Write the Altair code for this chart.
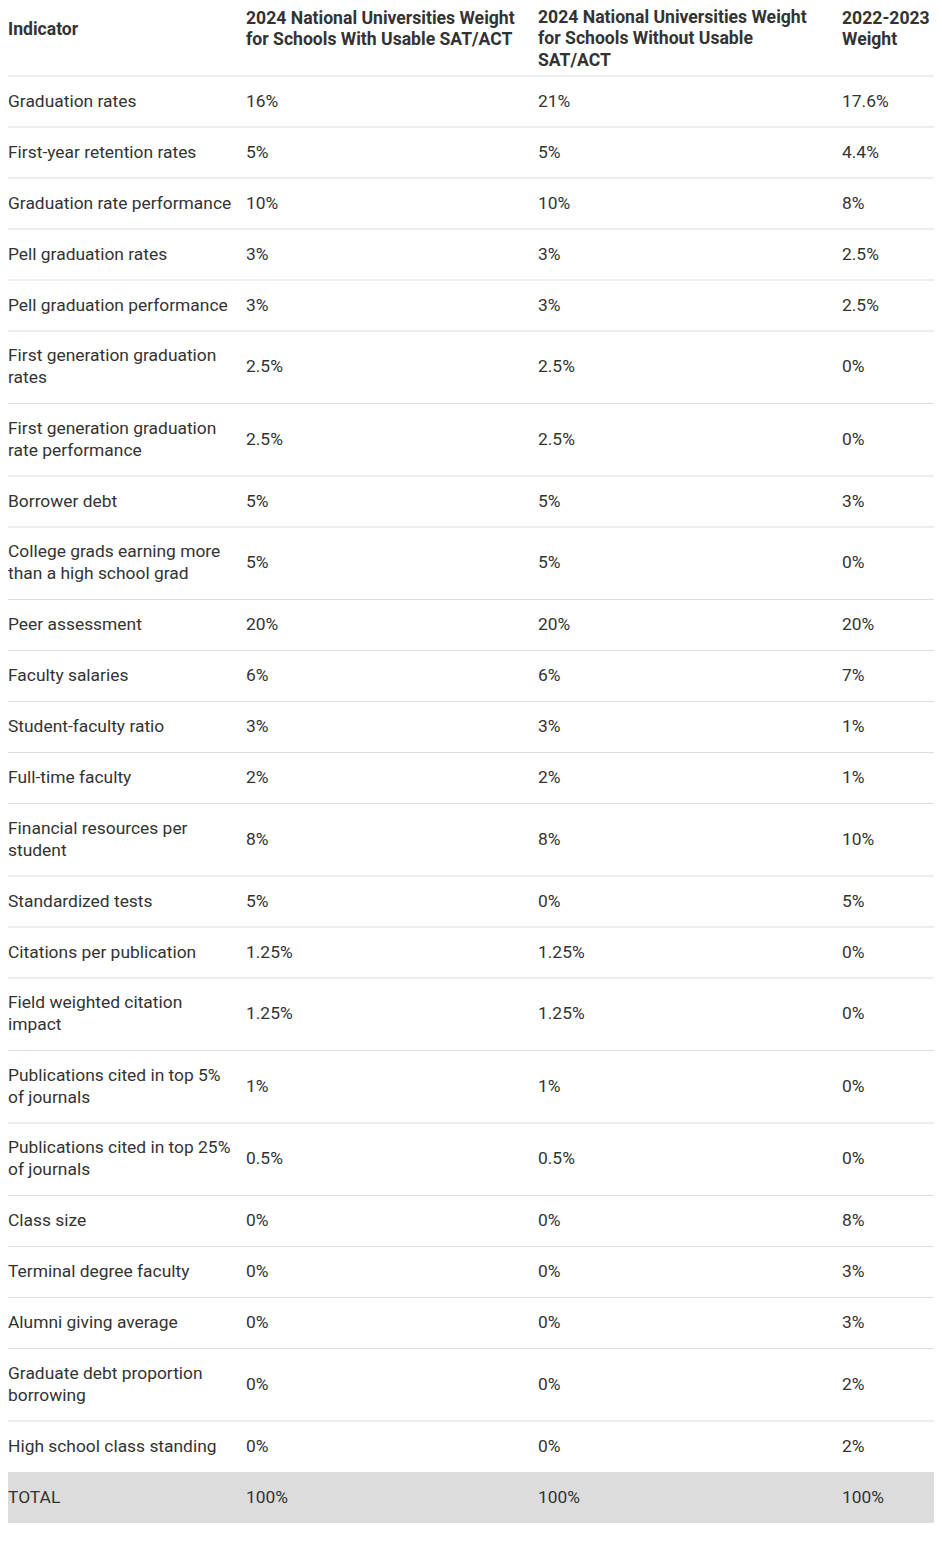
import altair as alt
import pandas as pd

# ---- table content ----
headers = [
    "Indicator",
    "2024 National Universities Weight\nfor Schools With Usable SAT/ACT",
    "2024 National Universities Weight\nfor Schools Without Usable\nSAT/ACT",
    "2022-2023\nWeight",
]

indicators = [
    "Graduation rates",
    "First-year retention rates",
    "Graduation rate performance",
    "Pell graduation rates",
    "Pell graduation performance",
    "First generation graduation\nrates",
    "First generation graduation\nrate performance",
    "Borrower debt",
    "College grads earning more\nthan a high school grad",
    "Peer assessment",
    "Faculty salaries",
    "Student-faculty ratio",
    "Full-time faculty",
    "Financial resources per\nstudent",
    "Standardized tests",
    "Citations per publication",
    "Field weighted citation\nimpact",
    "Publications cited in top 5%\nof journals",
    "Publications cited in top 25%\nof journals",
    "Class size",
    "Terminal degree faculty",
    "Alumni giving average",
    "Graduate debt proportion\nborrowing",
    "High school class standing",
    "TOTAL",
]

weight_with_sat = ["16%", "5%", "10%", "3%", "3%", "2.5%", "2.5%", "5%", "5%", "20%",
                   "6%", "3%", "2%", "8%", "5%", "1.25%", "1.25%", "1%", "0.5%",
                   "0%", "0%", "0%", "0%", "0%", "100%"]
weight_without_sat = ["21%", "5%", "10%", "3%", "3%", "2.5%", "2.5%", "5%", "5%", "20%",
                      "6%", "3%", "2%", "8%", "0%", "1.25%", "1.25%", "1%", "0.5%",
                      "0%", "0%", "0%", "0%", "0%", "100%"]
weight_2022_2023 = ["17.6%", "4.4%", "8%", "2.5%", "2.5%", "0%", "0%", "3%", "0%", "20%",
                    "7%", "1%", "1%", "10%", "5%", "0%", "0%", "0%", "0%",
                    "8%", "3%", "3%", "2%", "2%", "100%"]

# ---- layout constants ----
W = 926
HEADER_H = 68
HEADER_MID = 21.5
HEADER_MIN_FIRST = 9.5
ONE_LINE_H = 51
TWO_LINE_H = 72.5
COL_X = [0, 238, 530, 834]
TEXT_COLOR = "#333333"
LINE_COLOR = "#dddddd"
FONT = "Roboto"
FS_BODY = 17.4
FS_HEAD = 17.6
LH = 22
HLH = 21.5

# row geometry derived from number of text lines
rows = []
top = HEADER_H
for i, ind in enumerate(indicators):
    n = ind.count("\n") + 1
    h = ONE_LINE_H if n == 1 else TWO_LINE_H
    rows.append({"row": i, "top": top, "bottom": top + h, "mid": top + h / 2,
                 "total": ind == "TOTAL"})
    top += h
H = int(top + 1)

row_df = pd.DataFrame(rows)
row_df["x0"] = 0
row_df["x1"] = W

cells = []
cols = [indicators, weight_with_sat, weight_without_sat, weight_2022_2023]
for r in rows:
    for c, col in enumerate(cols):
        t = col[r["row"]]
        n = t.count("\n") + 1
        cells.append({"x": COL_X[c], "y": r["mid"] - (n - 1) * LH / 2, "text": t})
cell_df = pd.DataFrame(cells)

head_df = pd.DataFrame({
    "x": COL_X,
    "y": [max(HEADER_MID - h.count("\n") * HLH / 2, HEADER_MIN_FIRST) for h in headers],
    "text": headers,
})

lines_df = pd.DataFrame({"y": [HEADER_H] + [r["bottom"] for r in rows[:-2]],
                         "x0": 0, "x1": W})

xs = alt.Scale(domain=[0, W], range=[0, W], nice=False, zero=False, padding=0)
ys = alt.Scale(domain=[0, H], range=[0, H], nice=False, zero=False, padding=0)

total_bg = alt.Chart(row_df[row_df["total"]]).mark_rect(color="#dcdcdc").encode(
    x=alt.X("x0:Q", scale=xs, axis=None),
    x2="x1:Q",
    y=alt.Y("top:Q", scale=ys, axis=None),
    y2="bottom:Q",
)

sep = alt.Chart(lines_df).mark_rule(color=LINE_COLOR, strokeWidth=1.2).encode(
    x=alt.X("x0:Q", scale=xs, axis=None),
    x2="x1:Q",
    y=alt.Y("y:Q", scale=ys, axis=None),
)

body = alt.Chart(cell_df).mark_text(
    align="left", baseline="middle", font=FONT, fontSize=FS_BODY, color=TEXT_COLOR,
    lineBreak="\n", lineHeight=LH,
).encode(
    x=alt.X("x:Q", scale=xs, axis=None),
    y=alt.Y("y:Q", scale=ys, axis=None),
    text="text:N",
)

head = alt.Chart(head_df).mark_text(
    align="left", baseline="middle", font=FONT, fontSize=FS_HEAD, fontWeight="bold",
    color=TEXT_COLOR, lineBreak="\n", lineHeight=HLH,
).encode(
    x=alt.X("x:Q", scale=xs, axis=None),
    y=alt.Y("y:Q", scale=ys, axis=None),
    text="text:N",
)

chart = alt.layer(total_bg, sep, body, head).properties(
    width=W, height=H, padding=0, autosize=alt.AutoSizeParams(type="none")
).configure_view(stroke=None)

chart.save("out.html", embed_options={"renderer": "svg", "actions": False})
